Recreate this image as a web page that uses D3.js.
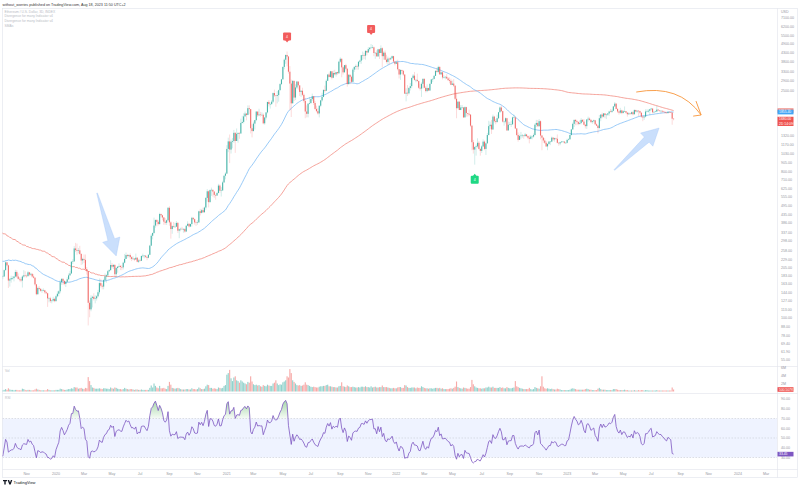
<!DOCTYPE html>
<html><head><meta charset="utf-8">
<script src="https://cdn.jsdelivr.net/npm/d3@7"></script>
<style>body{margin:0;background:#fff}svg{display:block}text{font-family:"Liberation Sans",Arial,sans-serif}</style>
</head><body><svg id="c" width="800" height="487"></svg>
<script>
// ================= DATA =================
const firstBar = "2019-07-01";     // first 3-day candle (off-screen warm-up), bars every 3 days
const firstOpen = 290;
// weekly closes Oct 2017 .. Jun 2019 (history before the first 3D bar, used only for the moving averages)
const preWeekStart = "2017-10-02";
const preWeeklyCloses = [
 297,338,296,295,302,317,354,466,463,453,695,770,756,
 1153,1376,1050,1058,827,860,935,845,752,695,532,525,395,385,505,620,685,750,710,690,590,620,610,520,455,455,475,435,470,465,405,320,295,280,290,215,220,245,230,225,195,205,205,210,207,174,113,110,84,87,140,134,155,
 117,118,112,112,120,122,158,135,132,134,137,140,165,167,166,155,170,195,234,265,268,237,268,306,290
];
// 3-day candles [high, low, close]; open = previous close
const hlc2019 = [
 [305,280,302],[305,280,288],[318,285,308],[310,260,275],[280,215,229],[230,193,226],[232,215,226],[227,205,217],[223,200,207],[214,203,211],[223,209,218],
 [236,216,233],[237,216,220],[221,200,211],[216,183,187],[190,170,183],[207,182,197],[197,182,190],[193,180,187],[190,165,169],[175,165,172],
 [182,170,174],[178,166,177],[184,175,180],[183,173,180],[199,186,197],[224,196,220],[221,208,211],[213,153,170],[176,156,173],[182,165,176],
 [181,172,176],[181,168,180],[198,178,192],[197,177,180],[188,172,174],[178,168,173],[178,166,170],[183,154,180],[197,177,183],[194,178,182],
 [185,177,181],[195,180,191],[192,181,185],[190,182,187],[188,177,180],[186,175,177],[178,158,161],[162,138,140],[156,139,153],[157,148,151],
 [153,145,147],[151,143,148],[152,146,148],[149,141,144],[146,140,142],[143,117,132],[134,125,132],[135,124,127],[129,123,128],[135,126,131],[133,125,127]];
const hlc2020 = [
 [138,126,136],[146,134,141],[148,136,146],[172,142,166],[176,160,174],[176,160,169],[171,159,162],[168,155,167],[178,166,173],[188,172,183],
 [195,182,188],[224,187,222],[230,215,223],[277,222,268],[290,255,262],[287,245,259],[270,250,261],[278,245,248],[250,212,226],[235,214,231],
 [246,218,228],[246,196,200],[206,185,194],[195,90,124],[128,101,113],[138,110,133],[137,116,135],[142,128,131],[138,123,132],[138,128,136],
 [149,134,144],[175,140,164],[174,154,158],[163,150,156],[174,150,171],[188,168,180],[186,165,183],[197,180,194],[200,191,197],[227,196,212],
 [218,202,207],[215,200,212],[215,180,186],[206,180,203],[208,190,207],[217,205,209],[212,197,206],[211,197,205],[222,199,219],[248,217,231],
 [253,234,244],[248,236,241],[247,236,244],[250,229,237],[240,224,231],[240,228,232],[234,224,229],[249,232,235],[237,220,222],[231,218,226],
 [232,223,225],[242,225,241],[249,236,242],[244,233,242],[243,234,238],[237,227,235],[247,233,245],[282,244,279],[330,277,321],[335,305,334],[415,330,371],
 [405,360,401],[407,367,391],[400,371,379],[445,375,437],[440,416,429],[432,400,416],[418,375,392],[412,375,386],[404,374,400],[482,395,477],
 [488,370,388],[395,308,353],[372,330,368],[390,360,365],[385,360,365],[395,375,385],[390,334,345],[355,310,352],[360,342,354],[364,350,353],
 [358,335,353],[357,335,341],[372,338,370],[394,368,380],[384,360,366],[382,363,379],[420,365,414],[416,400,406],[410,376,388],[393,369,386],
 [400,375,388],[458,385,454],[470,428,444],[470,440,461],[478,445,448],[485,445,479],[555,465,549],[622,520,603],[610,480,517],[620,515,614],
 [635,565,616],[610,560,601],[598,550,573],[575,535,568],[595,565,589],[670,585,654],[665,590,608],[640,560,611],[700,605,684],[755,680,752],[790,715,775]];
const hlc2021 = [
 [1160,770,1100],[1290,1050,1224],[1350,900,1090],[1255,1030,1218],[1285,1110,1230],[1440,1200,1382],[1390,1040,1231],[1470,1290,1362],[1390,1200,1380],[1390,1270,1370],
 [1690,1360,1590],[1760,1580,1614],[1825,1580,1745],[1870,1740,1815],[1830,1650,1782],[2040,1770,1960],[2040,1800,1935],[1790,1370,1475],[1560,1295,1417],
 [1620,1410,1575],[1660,1450,1655],[1880,1630,1868],[1870,1730,1772],[1945,1760,1791],[1860,1740,1782],[1850,1760,1785],[1820,1560,1582],[1730,1550,1717],[1850,1670,1847],[2145,1820,2142],
 [2200,2010,2080],[2120,1950,2080],[2200,2050,2150],[2450,2110,2430],[2550,2300,2350],[2350,2000,2330],[2500,2100,2360],[2550,2150,2530],[2800,2530,2760],[2970,2720,2950],
 [3540,2950,3520],[3970,3400,3900],[4200,3680,4170],[4380,3550,4080],[4100,3200,3290],[3560,1900,2780],[2940,1730,2100],[2910,2150,2890],[2890,2170,2280],[2750,2200,2630],
 [2890,2580,2860],[2820,2550,2710],[2620,2330,2470],[2530,2300,2510],[2620,2330,2370],[2420,2120,2170],[2270,1700,1870],[2040,1720,1810],[2100,1720,2090],[2300,2070,2110],
 [2250,2080,2230],[2410,2170,2320],[2330,2050,2110],[2170,1920,1940],[2030,1850,1880],[1960,1790,1820],[2040,1720,2030],[2200,1990,2190],[2440,2150,2300],[2560,2290,2540],
 [2700,2450,2510],[2950,2500,2890],[3180,2900,3160],[3240,3040,3050],[3335,3030,3310],[3290,2950,3020],[3340,3000,3230],[3380,3120,3170],[3280,3070,3270],[3290,3150,3220],[3840,3180,3790],
 [4030,3730,3950],[3970,3040,3500],[3540,3160,3260],[3620,3260,3610],[3680,3350,3430],[3470,2660,2760],[3170,2740,3150],[3150,2760,3060],[3110,2800,2850],[3470,2840,3390],
 [3560,3280,3520],[3640,3380,3560],[3640,3380,3540],[3810,3390,3790],[3900,3690,3850],[4180,3680,4160],[4380,3890,4170],[4300,3930,4130],[4460,3900,4420],[4400,4150,4320],
 [4660,4320,4530],[4660,4430,4620],[4870,4580,4630],[4810,4580,4650],[4700,4100,4290],[4350,3950,4300],[4460,4070,4090],[4550,4060,4520],[4550,3940,4290],[4780,4280,4590],
 [4650,3500,4100],[4400,3900,4310],[4450,3880,3900],[4180,3700,3780],[4080,3640,3960],[4020,3650,3920],[4060,3880,3980],[4140,3970,4100],[4120,3750,3800],[3770,3600,3680]];
const hlc2022 = [
 [3850,3680,3760],[3900,3350,3410],[3420,2990,3160],[3410,2930,3370],[3390,3180,3330],[3370,3100,3160],[3170,2400,2410],[2600,2160,2440],[2720,2330,2420],[2640,2380,2610],[2800,2520,2680],
 [3030,2600,3010],[3180,2960,3110],[3280,2900,2930],[2950,2830,2930],[3200,2860,2880],[2900,2580,2620],[2770,2520,2590],[2830,2300,2770],[3000,2590,2970],
 [3000,2600,2620],[2680,2450,2500],[2750,2460,2610],[2620,2500,2520],[2780,2500,2770],[2960,2770,2950],[3000,2840,2970],[3140,2950,3100],[3350,3100,3330],[3480,3250,3280],
 [3580,3220,3520],[3550,3150,3170],[3300,3150,3260],[3300,2950,3030],[3130,2990,3040],[3080,2950,3060],[3180,2970,2990],[3050,2880,2920],[3030,2790,2890],[2980,2720,2730],
 [2900,2730,2780],[2960,2650,2700],[2650,2200,2240],[2450,1700,1960],[2160,1960,2150],[2160,1910,1910],[2050,1930,1980],[2050,1950,1980],[1990,1710,1720],[2010,1720,1990],[2000,1740,1830],
 [1830,1740,1810],[1920,1750,1790],[1800,1500,1530],[1540,1080,1210],[1250,1030,1090],[1140,880,1130],[1170,1000,1140],[1280,1120,1200],[1230,1090,1100],[1110,1000,1070],
 [1160,1040,1140],[1260,1130,1220],[1240,1080,1100],[1200,1010,1190],[1380,1190,1340],[1640,1330,1520],[1620,1460,1550],[1660,1360,1450],[1790,1440,1740],[1760,1600,1630],
 [1680,1560,1610],[1790,1600,1700],[1860,1680,1850],[2010,1850,1980],[2030,1860,1880],[1890,1600,1620],[1640,1530,1620],[1720,1580,1700],[1710,1420,1430],[1620,1430,1550],
 [1610,1540,1560],[1640,1500,1560],[1740,1550,1720],[1790,1700,1720],[1740,1460,1470],[1480,1320,1340],[1390,1220,1250],[1350,1250,1320],[1400,1270,1330],[1360,1290,1330],
 [1340,1270,1320],[1380,1310,1350],[1360,1300,1320],[1330,1260,1290],[1330,1190,1270],[1340,1260,1310],[1330,1260,1310],[1370,1290,1340],[1580,1330,1550],[1660,1500,1590],[1660,1500,1520],
 [1680,1500,1630],[1650,1260,1330],[1340,1080,1290],[1300,1200,1240],[1280,1180,1200],[1230,1130,1140],[1190,1080,1180],[1230,1170,1220],[1230,1160,1220],[1310,1210,1290],
 [1300,1230,1260],[1290,1220,1280],[1290,1250,1270],[1350,1190,1200],[1210,1150,1190],[1220,1160,1210],[1230,1200,1220],[1230,1210,1220],[1230,1180,1200],[1210,1190,1200]];
const hlc2023 = [
 [1270,1190,1250],[1280,1240,1260],[1350,1260,1340],[1460,1330,1450],[1600,1500,1570],[1670,1500,1660],[1680,1540,1630],[1660,1540,1610],[1630,1540,1570],[1650,1550,1590],
 [1700,1560,1660],[1680,1610,1620],[1680,1540,1550],[1560,1470,1520],[1680,1460,1670],[1740,1620,1690],[1720,1640,1660],[1680,1590,1610],[1650,1570,1630],[1670,1600,1650],
 [1660,1540,1560],[1580,1520,1530],[1540,1370,1480],[1780,1450,1700],[1800,1630,1790],[1840,1700,1740],[1830,1720,1820],[1830,1700,1780],[1810,1680,1790],[1830,1760,1820],
 [1890,1760,1870],[1940,1850,1860],[1930,1830,1890],[2020,1880,2010],[2140,2000,2090],[2110,1930,1940],[1960,1830,1870],[1890,1790,1840],[1970,1810,1900],[1920,1800,1830],
 [1910,1820,1880],[2010,1860,1880],[1880,1820,1840],[1850,1740,1800],[1850,1780,1820],[1840,1780,1810],[1870,1790,1850],[1880,1770,1800],[1930,1790,1910],[1920,1850,1870],
 [1910,1840,1890],[1910,1750,1880],[1890,1800,1840],[1840,1710,1740],[1760,1630,1720],[1760,1660,1740],[1930,1720,1870],[1930,1850,1870],[1930,1840,1890],[1940,1780,1930],
 [1970,1900,1950],[1960,1820,1850],[1880,1830,1860],[1890,1850,1870],[2030,1860,1920],[1940,1880,1900],[1900,1860,1890],[1900,1830,1890],[1890,1840,1870],[1890,1850,1860],[1870,1810,1840],
 [1850,1820,1830],[1870,1810,1860],[1870,1840,1850],[1860,1830,1840],[1850,1550,1690],[1700,1650,1680]];
// volume per 3-day bar, millions
const vol2019 = [0.5,0.6,0.5,0.8,0.9,0.8,0.5,0.4,0.4,0.3,0.3, 0.4,0.4,0.3,0.5,0.5,0.4,0.3,0.3,0.4,0.3, 0.3,0.3,0.3,0.3,0.4,0.6,0.4,0.8,0.5,0.4, 0.4,0.3,0.4,0.4,0.3,0.3,0.3,0.7,0.6,0.4, 0.3,0.4,0.4,0.3,0.3,0.3,0.5,0.7,0.5,0.4, 0.3,0.3,0.3,0.3,0.3,0.6,0.4,0.3,0.3,0.3,0.3];
const vol2020 = [0.4,0.4,0.4,0.7,0.6,0.5,0.4,0.4,0.5,0.6, 0.6,0.8,0.7,1.1,1.0,1.0,0.7,0.8,0.9,0.7, 0.6,0.9,0.8,3.6,2.6,1.6,1.0,0.9,0.7,0.7, 0.7,0.8,0.7,0.6,0.8,0.8,0.7,0.7,0.6,1.0, 0.8,0.7,1.0,0.9,0.7,0.6,0.6,0.5,0.6,0.9, 0.7,0.6,0.5,0.6,0.6,0.5,0.4,0.5,0.5,0.4, 0.4,0.5,0.4,0.4,0.4,0.4,0.4,0.9,1.5,1.0,2.0, 1.4,1.0,0.8,1.4,0.8,0.8,0.9,0.7,0.6,1.4, 2.4,1.7,0.9,0.8,0.7,0.8,0.9,0.8,0.6,0.5, 0.5,0.5,0.6,0.6,0.5,0.5,0.8,0.6,0.6,0.5, 0.6,1.0,0.8,0.6,0.6,0.7,1.3,1.7,1.6,0.9, 0.9,0.7,0.8,0.7,0.6,1.0,0.9,0.8,0.9,1.4,1.6];
const vol2021 = [4.2,4.6,5.4,3.3,2.6,3.5,3.8,2.8,2.6,2.2, 2.8,2.5,2.2,2.0,1.8,2.4,2.2,3.8,2.5, 1.8,1.6,1.7,1.5,1.6,1.3,1.2,1.6,1.4,1.3,1.7, 1.5,1.4,1.4,2.0,2.2,2.8,2.0,1.6,1.8,1.7, 2.3,2.5,2.8,3.8,3.5,5.6,4.6,2.8,2.4,2.0, 1.6,1.5,1.6,1.4,1.5,1.7,2.3,1.7,1.6,1.4, 1.2,1.1,1.2,1.1,1.0,1.0,1.2,1.3,1.3,1.4, 1.4,1.6,1.7,1.3,1.3,1.2,1.1,1.1,1.0,1.0,1.3, 1.4,2.3,1.3,1.2,1.1,1.5,1.3,1.1,1.1,1.2, 1.1,1.0,1.0,1.1,1.0,1.2,1.2,1.1,1.3,1.1, 1.1,1.0,1.3,1.0,1.1,1.2,1.0,1.0,1.1,1.1, 1.5,1.1,1.1,1.1,1.0,0.9,0.8,0.8,0.9,0.8];
const vol2022 = [0.8,1.0,1.1,1.1,0.9,0.9,1.6,1.5,1.1,0.9,0.9, 1.0,1.0,1.0,0.8,1.0,0.9,0.9,1.3,1.1, 0.9,0.8,0.8,0.7,0.8,0.8,0.7,0.8,0.9,0.9, 0.8,0.9,0.7,0.8,0.6,0.6,0.6,0.6,0.7,0.8, 0.7,0.9,1.2,2.5,1.1,0.9,0.8,0.7,1.0,0.9,0.8, 0.7,0.7,1.1,2.9,1.8,1.3,1.0,0.9,0.8,0.8, 0.7,0.8,0.8,1.0,1.0,1.2,1.0,1.0,1.2,0.9, 0.9,0.9,0.9,1.1,0.9,1.0,0.8,0.8,1.1,0.9, 0.8,0.8,0.9,1.0,2.6,1.3,1.1,0.9,0.8,0.7, 0.6,0.6,0.6,0.6,0.9,0.6,0.5,0.6,1.1,0.9,0.8, 0.7,1.3,3.8,1.2,0.8,0.7,0.8,0.7,0.6,0.7, 0.6,0.5,0.5,0.7,0.6,0.5,0.35,0.35,0.35,0.35];
const vol2023 = [0.35,0.35,0.45,0.7,0.8,0.7,0.6,0.45,0.45,0.45, 0.45,0.45,0.45,0.6,0.7,0.6,0.45,0.45,0.35,0.35, 0.35,0.35,0.7,0.9,0.6,0.45,0.45,0.45,0.35,0.35, 0.35,0.35,0.35,0.6,0.6,0.6,0.45,0.35,0.35,0.35, 0.35,0.45,0.35,0.35,0.25,0.25,0.25,0.25,0.35,0.25, 0.25,0.35,0.25,0.35,0.35,0.25,0.35,0.35,0.25,0.25, 0.25,0.25,0.25,0.25,0.35,0.25,0.25,0.25,0.25,0.25,0.25, 0.25,0.25,0.25,0.25,1.0,0.500507];

const smaFastLen = 50, smaSlowLen = 200, rsiLen = 14;
const priceTicks = [7100,6200,5500,4900,4300,3800,3300,2900,2500,1320,1170,1030,905,800,710,625,555,495,435,386,337,298,258,229,205,183,163,144,127,113,100,88,78,69.4,61.9,55];
const volTicks = [2,4,6];
const rsiTicks = [30,40,50,60,70,80,90];
const monthTicks = ["2019-11","2020-01","2020-03","2020-05","2020-07","2020-09","2020-11","2021-01","2021-03","2021-05","2021-07","2021-09","2021-11","2022-01","2022-03","2022-05","2022-07","2022-09","2022-11","2023-01","2023-03","2023-05","2023-07","2023-09","2023-11","2024-01","2024-03"];
const monthLabels = ["Nov","2020","Mar","May","Jul","Sep","Nov","2021","Mar","May","Jul","Sep","Nov","2022","Mar","May","Jul","Sep","Nov","2023","Mar","May","Jul","Sep","Nov","2024","Mar"];
const bearDivBars = ["2021-05-12","2021-11-08"], bearDivText = ["4","4"];
const bullDivBars = ["2022-06-18"], bullDivText = ["4"];
const blueArrows = [[["2020-03-31",588],["2020-05-11",241]],[["2023-04-13",815],["2023-07-18",1480]]];
const orangeArc = [["2023-05-30",2465],["2023-08-30",2760],["2023-10-16",1780]];
const orangeHead = [["2023-10-05",2169],["2023-10-16",1780],["2023-09-29",1752]];
const headerText = "without_worries published on TradingView.com, Aug 18, 2023 11:50 UTC+2";
const legendLines = ["Ethereum / U.S. Dollar, 3D, INDEX","Divergence for many Indicator v4","Divergence for many Indicator v4","SMAs"];
const barCountdown = "2D 14:09:59";

// ================= BUILD =================
const parse = d3.utcParse("%Y-%m-%d");
const hlc = [].concat(hlc2019,hlc2020,hlc2021,hlc2022,hlc2023);
const volume = [].concat(vol2019,vol2020,vol2021,vol2022,vol2023);
const t0 = parse(firstBar);
const bars = hlc.map((d,i)=>({t:d3.utcDay.offset(t0,3*i),h:d[0],l:d[1],c:d[2],v:volume[i]}));
bars.forEach((b,i)=>{b.o = i===0?firstOpen:bars[i-1].c; b.h=Math.max(b.h,b.o); b.l=Math.min(b.l,b.o);});
// moving averages: mean of closes over the last N*3 days (weekly history counts as 7/3 bars)
const pts = preWeeklyCloses.map((c,k)=>({e:+d3.utcDay.offset(parse(preWeekStart),7*k+7),c,w:7/3}))
  .concat(bars.map(b=>({e:+d3.utcDay.offset(b.t,3),c:b.c,w:1})));
function smaAt(tEnd,n){const lo=tEnd-n*3*864e5;let s=0,w=0;for(const p of pts){if(p.e>lo&&p.e<=tEnd){s+=p.c*p.w;w+=p.w;}}return s/w;}
bars.forEach(b=>{const e=+d3.utcDay.offset(b.t,3);b.fast=smaAt(e,smaFastLen);b.slow=smaAt(e,smaSlowLen);});
// Wilder RSI
{let ag=0,al=0;const cl=[firstOpen].concat(bars.map(b=>b.c));
 for(let k=1;k<cl.length;k++){const ch=cl[k]-cl[k-1],g=Math.max(ch,0),l=Math.max(-ch,0);
  if(k<=rsiLen){ag+=g/rsiLen;al+=l/rsiLen;} else {ag=(ag*(rsiLen-1)+g)/rsiLen;al=(al*(rsiLen-1)+l)/rsiLen;}
  bars[k-1].rsi = k<rsiLen?null:(al===0?100:100-100/(1+ag/al));}}

const svg = d3.select("#c");
const W=800,H=487,R=777;
const x = d3.scaleUtc().domain([parse("2020-01-03"),parse("2024-01-03")]).range([56,738]);
const yP = d3.scaleLog().domain([51.3,7894]).range([365,10]);
const yV = d3.scaleLinear().domain([0,1]).range([391.5,387.5]);
const yR = d3.scaleLinear().domain([50,90]).range([438,399]);
const UP="#26a69a", DN="#ef5350", axisCol="#9598a1", lineCol="#e0e3eb";

svg.append("rect").attr("width",W).attr("height",H).attr("fill","#fff");
const defs = svg.append("defs");
defs.append("clipPath").attr("id","cm").append("rect").attr("x",2.5).attr("y",9).attr("width",R-2.5).attr("height",357);
defs.append("clipPath").attr("id","cv").append("rect").attr("x",2.5).attr("y",367).attr("width",R-2.5).attr("height",26);
defs.append("clipPath").attr("id","cr").append("rect").attr("x",2.5).attr("y",394).attr("width",R-2.5).attr("height",75);
const gr = defs.append("linearGradient").attr("id","ob").attr("x1",0).attr("x2",0).attr("y1",0).attr("y2",1);
gr.append("stop").attr("offset","0%").attr("stop-color","#4caf50").attr("stop-opacity",0.5);
gr.append("stop").attr("offset","100%").attr("stop-color","#4caf50").attr("stop-opacity",0.05);

// frame & separators
svg.append("rect").attr("x",2.5).attr("y",8.5).attr("width",795).attr("height",469).attr("fill","none").attr("stroke",lineCol).attr("stroke-width",0.6);
[366.5,393.5,469.5].forEach(yy=>svg.append("line").attr("x1",2.5).attr("x2",797.5).attr("y1",yy).attr("y2",yy).attr("stroke",lineCol).attr("stroke-width",0.6));
svg.append("line").attr("x1",R+0.5).attr("x2",R+0.5).attr("y1",8.5).attr("y2",477.5).attr("stroke",lineCol).attr("stroke-width",0.6);

// header & legend
svg.append("text").attr("x",2.5).attr("y",5.5).attr("font-size",3.7).attr("fill","#333").text(headerText);
legendLines.forEach((s,i)=>svg.append("text").attr("x",4.5).attr("y",12.5+i*4.7).attr("font-size",3.3).attr("fill","#b8bbc4").text(s));

// main pane
const gm = svg.append("g").attr("clip-path","url(#cm)");
const ml = acc=>d3.line().x(b=>x(b.t)).y(b=>yP(acc(b)));
gm.append("path").datum(bars).attr("d",ml(b=>b.slow)).attr("fill","none").attr("stroke","#f28b82").attr("stroke-width",0.8);
gm.append("path").datum(bars).attr("d",ml(b=>b.fast)).attr("fill","none").attr("stroke","#7fbdf5").attr("stroke-width",0.8);
const bw=1.1;
gm.selectAll(".wk").data(bars).join("line").attr("x1",b=>x(b.t)).attr("x2",b=>x(b.t)).attr("y1",b=>yP(b.h)).attr("y2",b=>yP(b.l))
  .attr("stroke",b=>b.c>=b.o?UP:DN).attr("stroke-opacity",0.35).attr("stroke-width",0.6);
gm.selectAll(".bd").data(bars).join("rect").attr("x",b=>x(b.t)-bw/2).attr("width",bw)
  .attr("y",b=>yP(Math.max(b.o,b.c))).attr("height",b=>Math.max(0.5,yP(Math.min(b.o,b.c))-yP(Math.max(b.o,b.c))))
  .attr("fill",b=>b.c>=b.o?UP:DN).attr("fill-opacity",0.8);

// divergence labels
const barAt = s=>bars.find(b=>+b.t===+parse(s));
bearDivBars.forEach((s,i)=>{const b=barAt(s),cx=x(b.t),cy=yP(b.h)-15;
  gm.append("path").attr("d",`M${cx-2},${cy+3.5}L${cx+2},${cy+3.5}L${cx},${cy+6}Z`).attr("fill","#f25c5c");
  gm.append("rect").attr("x",cx-4).attr("y",cy-4).attr("width",8).attr("height",8).attr("rx",1).attr("fill","#f25c5c");
  gm.append("text").attr("x",cx).attr("y",cy+1.3).attr("text-anchor","middle").attr("font-size",3.5).attr("fill","#fff").text(bearDivText[i]);});
bullDivBars.forEach((s,i)=>{const b=barAt(s),cx=x(b.t),cy=yP(b.l)+15;
  gm.append("path").attr("d",`M${cx-2},${cy-3.5}L${cx+2},${cy-3.5}L${cx},${cy-6}Z`).attr("fill","#1fd884");
  gm.append("rect").attr("x",cx-4).attr("y",cy-4).attr("width",8).attr("height",8).attr("rx",1).attr("fill","#1fd884");
  gm.append("text").attr("x",cx).attr("y",cy+1.3).attr("text-anchor","middle").attr("font-size",3.5).attr("fill","#fff").text(bullDivText[i]);});

// drawings
const pt = d=>[x(parse(d[0])),yP(d[1])];
blueArrows.forEach(a=>{const [x1,y1]=pt(a[0]),[x2,y2]=pt(a[1]);
  const dx=x2-x1,dy=y2-y1,L=Math.hypot(dx,dy),ux=dx/L,uy=dy/L,nx=-uy,ny=ux;
  const hl=17,hw=9,bh=3.5,tw=0.4,bx=x2-ux*hl,by=y2-uy*hl;
  const p=[[x1+nx*tw,y1+ny*tw],[bx+nx*bh,by+ny*bh],[bx+nx*hw,by+ny*hw],[x2,y2],[bx-nx*hw,by-ny*hw],[bx-nx*bh,by-ny*bh],[x1-nx*tw,y1-ny*tw]];
  svg.append("path").attr("d","M"+p.map(q=>q.join(",")).join("L")+"Z").attr("fill","#9ec5fa").attr("fill-opacity",0.55).attr("stroke","#8ab8f7").attr("stroke-opacity",0.5).attr("stroke-width",0.5);});
{const a=orangeArc.map(pt);
 svg.append("path").attr("d",`M${a[0]}Q${a[1]} ${a[2]}`).attr("fill","none").attr("stroke","#f7953a").attr("stroke-width",0.9);
 const h=orangeHead.map(pt);
 svg.append("path").attr("d",`M${h[0]}L${h[1]}L${h[2]}`).attr("fill","none").attr("stroke","#f7953a").attr("stroke-width",0.9);}

// volume pane
const gv = svg.append("g").attr("clip-path","url(#cv)");
gv.selectAll("rect").data(bars).join("rect").attr("x",b=>x(b.t)-bw/2).attr("width",bw).attr("y",b=>yV(b.v)).attr("height",b=>yV(0)-yV(b.v))
  .attr("fill",b=>b.c>=b.o?UP:DN).attr("fill-opacity",0.5);
svg.append("text").attr("x",5).attr("y",372).attr("font-size",3.3).attr("fill","#b8bbc4").text("Vol");

// RSI pane
const rb = bars.filter(b=>b.rsi!=null);
const gR = svg.append("g").attr("clip-path","url(#cr)");
gR.append("rect").attr("x",2.5).attr("width",R-2.5).attr("y",yR(70)).attr("height",yR(30)-yR(70)).attr("fill","#2962ff").attr("fill-opacity",0.075);
[70,50,30].forEach(v=>gR.append("line").attr("x1",2.5).attr("x2",R).attr("y1",yR(v)).attr("y2",yR(v)).attr("stroke","#b2b5be").attr("stroke-width",0.4).attr("stroke-dasharray","1.5,1.5"));
gR.append("path").datum(rb).attr("d",d3.area().x(b=>x(b.t)).y0(yR(70)).y1(b=>yR(Math.max(70,b.rsi)))).attr("fill","url(#ob)");
gR.append("path").datum(rb).attr("d",d3.line().x(b=>x(b.t)).y(b=>yR(b.rsi))).attr("fill","none").attr("stroke","#7e57c2").attr("stroke-width",0.8);
svg.append("text").attr("x",5).attr("y",399).attr("font-size",3.3).attr("fill","#b8bbc4").text("RSI");

// right axes
const ax = svg.append("g").attr("font-size",3.6).attr("fill",axisCol);
ax.append("text").attr("x",781).attr("y",13).text("USD");
const last = bars[bars.length-1];
priceTicks.forEach(v=>{const yy=yP(v); if(yy>14&&yy<362) ax.append("text").attr("x",781).attr("y",yy+1.3).text(v.toFixed(2));});
volTicks.forEach(v=>ax.append("text").attr("x",781).attr("y",yV(v)+1.3).text(v+"M"));
rsiTicks.forEach(v=>ax.append("text").attr("x",781).attr("y",yR(v)+1.3).text(v.toFixed(2)));
function tag(yy,col,lines){const h=4.6*lines.length;
  svg.append("rect").attr("x",777.5).attr("y",yy-2.3).attr("width",16).attr("height",h).attr("fill",col);
  lines.forEach((t,i)=>svg.append("text").attr("x",779).attr("y",yy+1.3+i*4.3).attr("font-size",3.4).attr("fill","#fff").text(t));}
tag(yP(last.slow),"#f28b82",[last.slow.toFixed(2)]);
tag(yP(last.fast),"#42a5f5",[last.fast.toFixed(2)]);
tag(yP(last.c),DN,[last.c.toFixed(2),barCountdown]);
tag(yV(last.v),DN,[d3.format(".6~s")(last.v*1e6).replace("k","K")]);
tag(yR(last.rsi),"#7e57c2",[last.rsi.toFixed(2)]);

// x axis (label at first bar of the month)
monthTicks.forEach((m,i)=>{const ms=d3.utcParse("%Y-%m")(m); const k=Math.ceil((ms-t0)/(3*864e5)); const xx=x(d3.utcDay.offset(t0,3*k));
  svg.append("text").attr("x",xx).attr("y",474.5).attr("text-anchor","middle").attr("font-size",3.6).attr("fill",axisCol).text(monthLabels[i]);});

// footer logo
svg.append("path").attr("d","M3,480h4v1.2h-1.3v3.3h-1.4v-3.3h-1.3zM7.6,480h1.5l0.9,2.4l0.9,-2.4h1.4l-1.6,4.5h-1.4z").attr("fill","#131722");
svg.append("text").attr("x",13.5).attr("y",484.3).attr("font-size",4).attr("fill","#131722").text("TradingView");
</script></body></html>
